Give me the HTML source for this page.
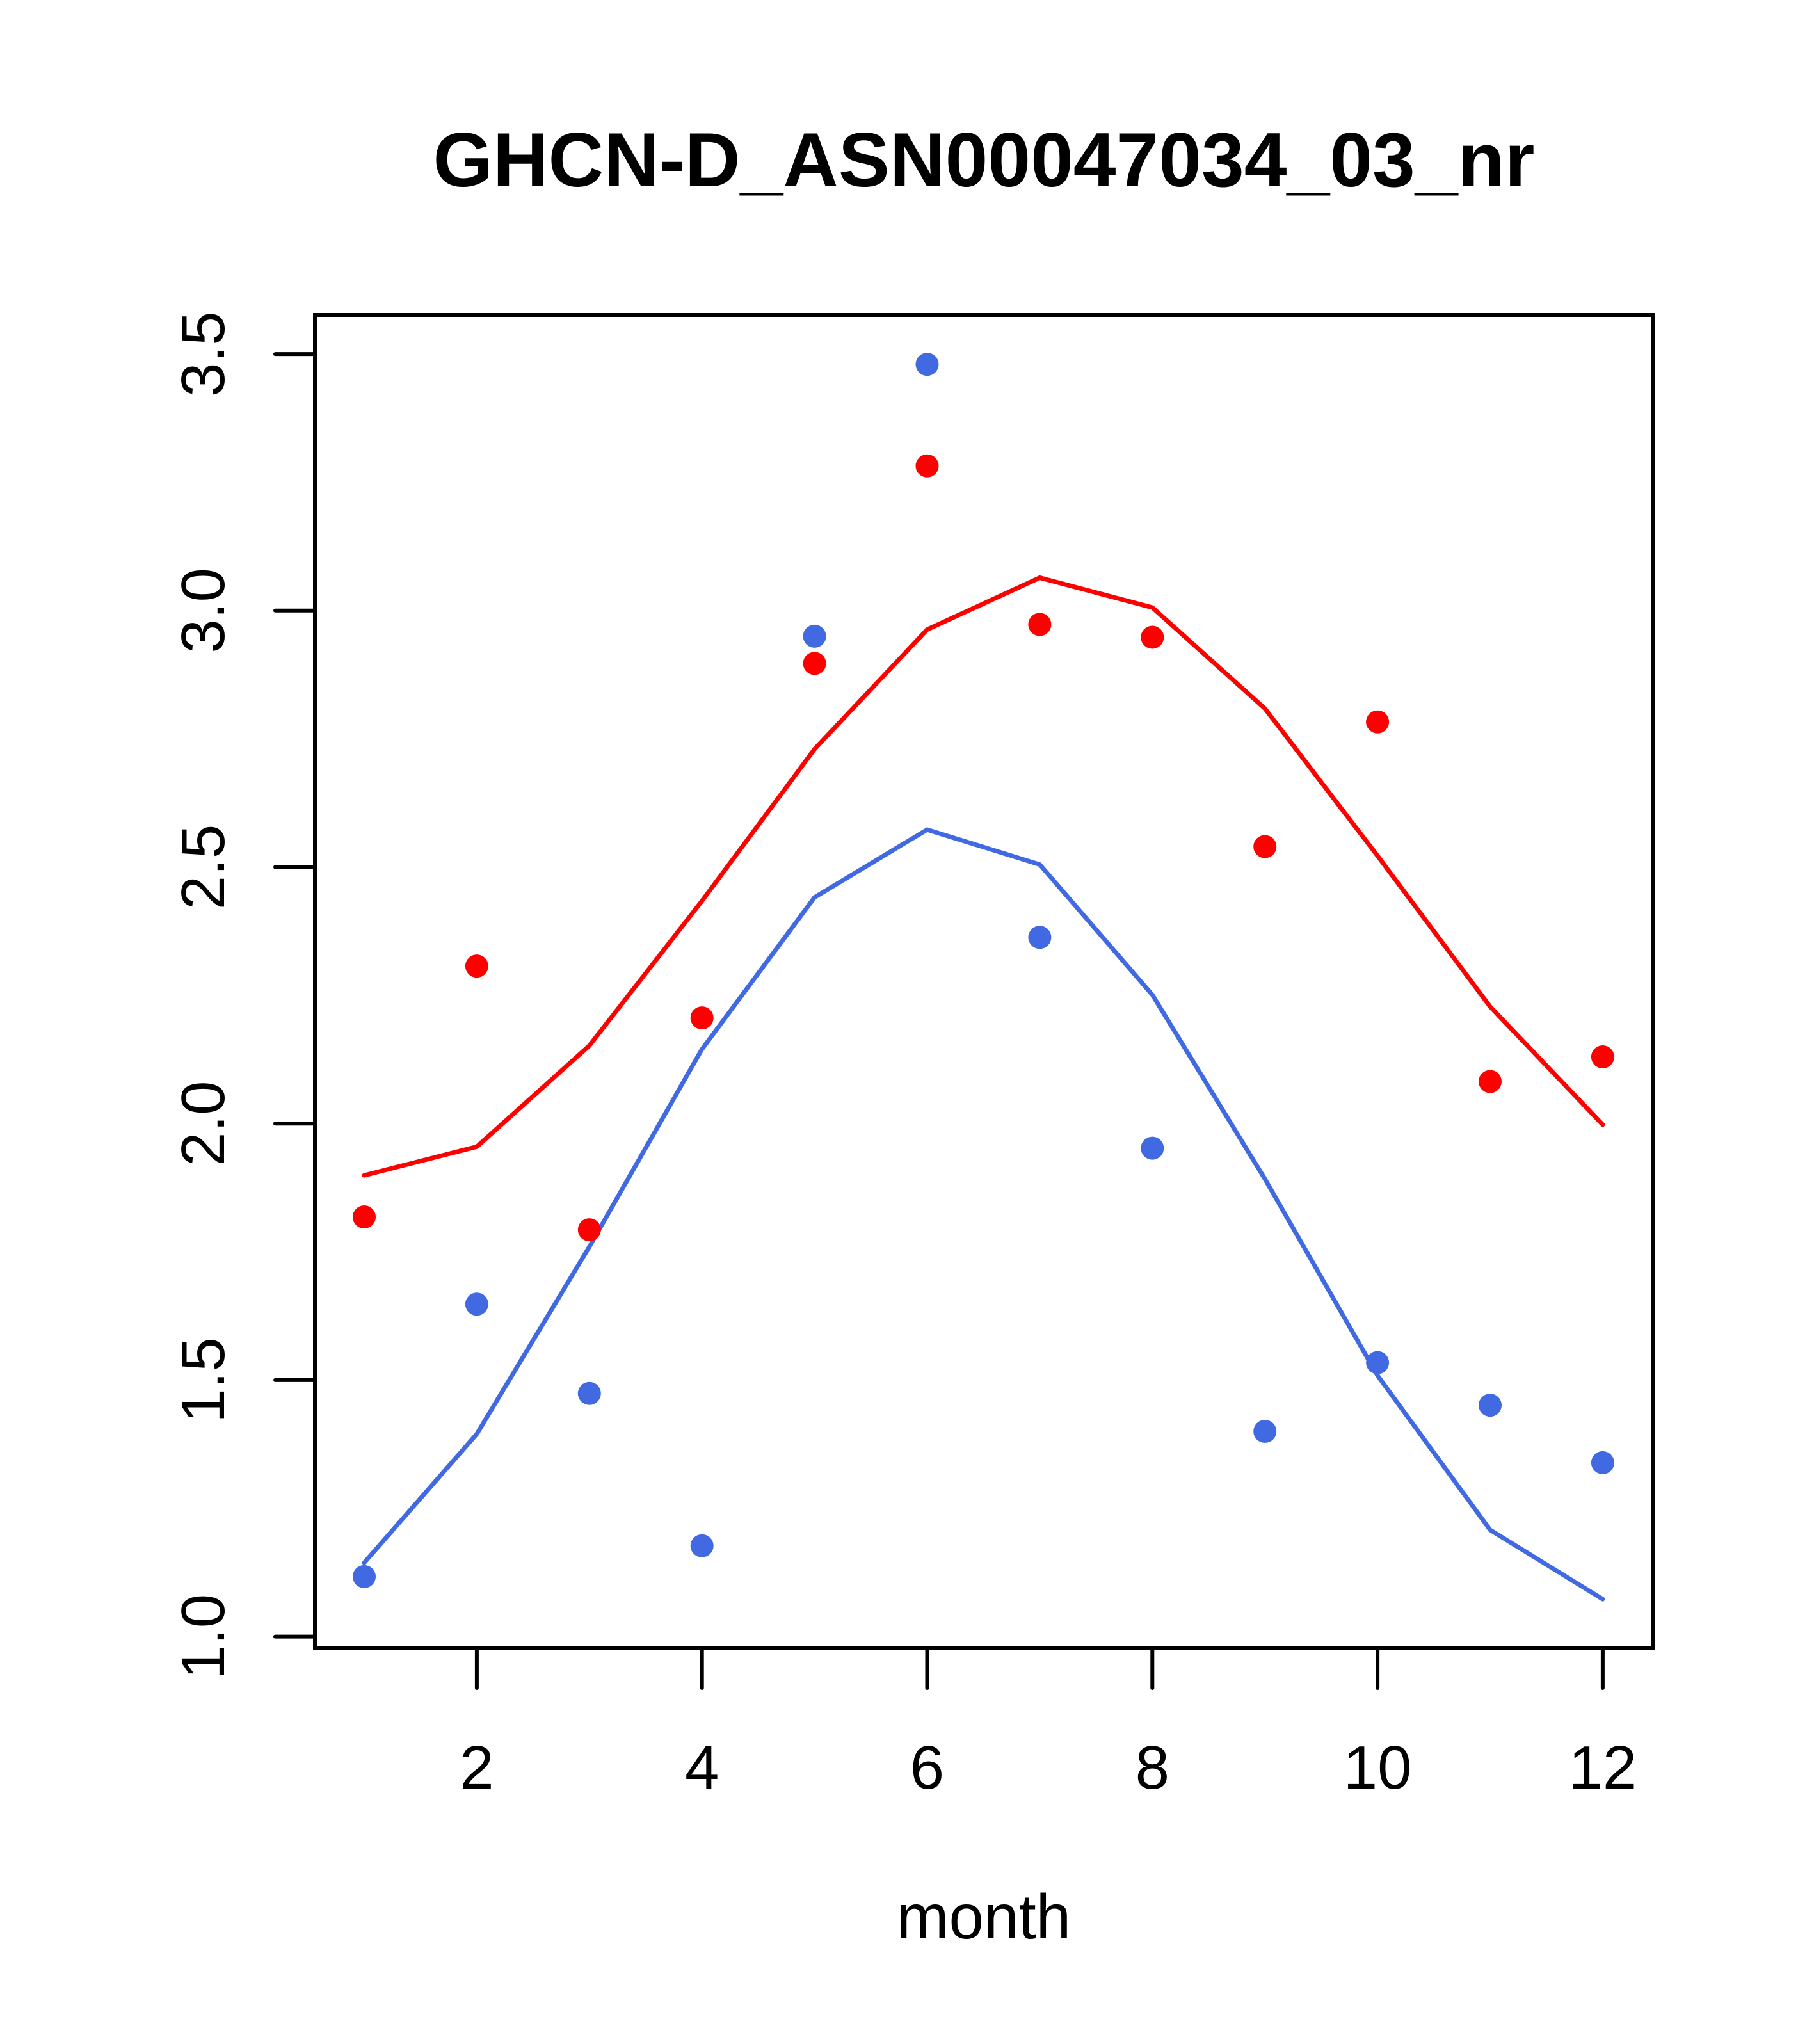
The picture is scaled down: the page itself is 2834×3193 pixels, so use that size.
<!DOCTYPE html>
<html><head><meta charset="utf-8"><style>body{margin:0;background:#fff}</style></head>
<body>
<svg id="chart" width="2834" height="3188" xmlns="http://www.w3.org/2000/svg" font-family="Liberation Sans, sans-serif">
<rect width="2834" height="3188" fill="#fff"/>
<text x="1537" y="291" font-size="120" font-weight="bold" text-anchor="middle">GHCN-D_ASN00047034_03_nr</text>
<rect x="492" y="492" width="2090" height="2083" fill="none" stroke="#000" stroke-width="6"/>
<text x="1537" y="3028" font-size="98" text-anchor="middle">month</text>
<g id="axes"></g><g id="series"></g>
</svg>
<script>
const months=[1,2,3,4,5,6,7,8,9,10,11,12];
const redPoints=[1.818,2.307,1.793,2.206,2.897,3.282,2.973,2.948,2.540,2.783,2.082,2.130];
const bluePoints=[1.117,1.648,1.474,1.177,2.950,3.480,2.363,1.952,1.400,1.534,1.451,1.339];
const redLine=[1.899,1.955,2.152,2.434,2.730,2.963,3.064,3.006,2.809,2.522,2.228,1.998];
const blueLine=[1.144,1.395,1.760,2.145,2.441,2.573,2.505,2.251,1.892,1.509,1.208,1.073];
const xTicks=[2,4,6,8,10,12];
const yTicks=[1.0,1.5,2.0,2.5,3.0,3.5];
const NS='http://www.w3.org/2000/svg';
const X=m=>569+(m-1)*175.9;
const Y=v=>2556.6-(v-1)*801.4;
const axes=document.getElementById('axes'), series=document.getElementById('series');
function mk(tag,attrs,parent){const e=document.createElementNS(NS,tag);for(const k in attrs)e.setAttribute(k,attrs[k]);parent.appendChild(e);return e;}
xTicks.forEach(t=>{
  const l=mk('line',{x1:X(t),x2:X(t),y1:2575,y2:2637,stroke:'#000','stroke-width':6,'stroke-linecap':'round'},axes);
  
  
  const tx=mk('text',{x:X(t),y:2794,'font-size':96,'text-anchor':'middle'},axes);tx.textContent=t;
  
  
});
yTicks.forEach(t=>{
  const l=mk('line',{x1:430,x2:492,y1:Y(t),y2:Y(t),stroke:'#000','stroke-width':6,'stroke-linecap':'round'},axes);
  
  
  const tx=mk('text',{x:0,y:0,'font-size':96,'text-anchor':'middle',transform:`translate(350,${Y(t)}) rotate(-90)`},axes);tx.textContent=t.toFixed(1);
  
  
});
function line(vals,color,name){
  const p=mk('polyline',{points:vals.map((v,i)=>X(months[i])+','+Y(v)).join(' '),fill:'none',stroke:color,'stroke-width':7,'stroke-linecap':'round'},series);
  
  
}
function pts(vals,color,name){
  vals.forEach((v,i)=>{const c=mk('circle',{cx:X(months[i]),cy:Y(v),r:18,fill:color},series);
  
  });
}
line(redLine,'#ff0000','red-fit-line');
line(blueLine,'#4169e1','blue-fit-line');
pts(redPoints,'#ff0000','red-point');
pts(bluePoints,'#4169e1','blue-point');
</script>
</body></html>
